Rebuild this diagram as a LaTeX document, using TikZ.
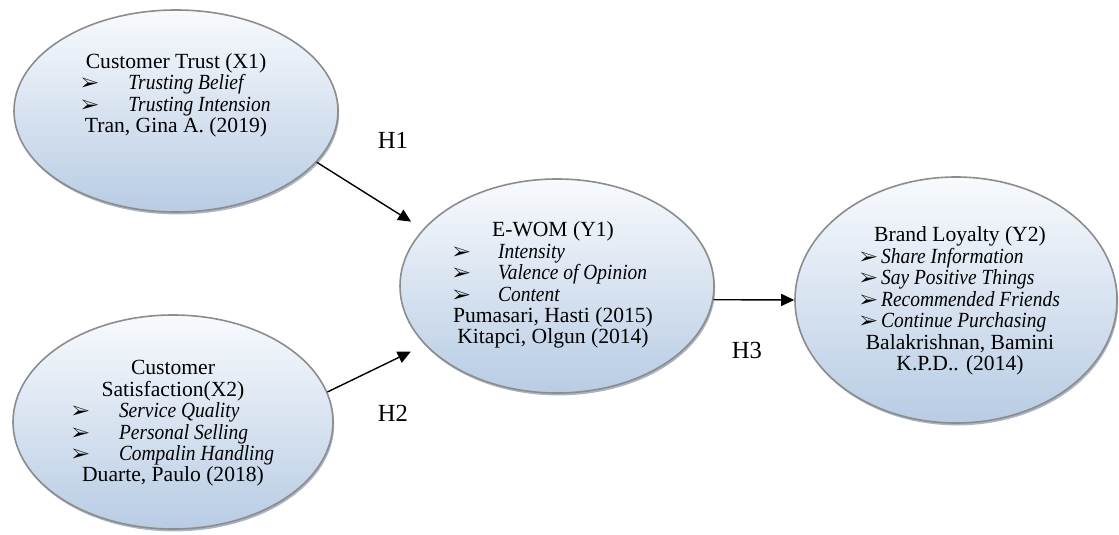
\documentclass[tikz,border=0pt]{standalone}
\usepackage{fontspec}
\setmainfont{Liberation Serif}
\newfontfamily\narrowit{Liberation Serif}[FakeStretch=0.9]
\usepackage{pifont}
\usepackage{tikz}
\usetikzlibrary{arrows.meta, positioning, shapes.geometric, shadows}

\definecolor{ovaltop}{RGB}{248,250,253}
\definecolor{ovalbottom}{RGB}{184,204,228}
\definecolor{ovalline}{RGB}{140,140,140}
\definecolor{ovalshadow}{RGB}{130,150,180}

\newcommand{\itm}[2]{\makebox[#1][l]{\fontsize{9.5}{9.5}\selectfont\ding{226}}{\narrowit\itshape #2}}
\newcommand{\ttl}[1]{\multicolumn{1}{@{}c@{}}{#1}}

\begin{document}
\begin{tikzpicture}[x=0.5pt, y=-0.5pt,
    oval/.style={draw=ovalline, line width=0.8pt, ellipse, inner sep=0pt,
        top color=ovaltop, bottom color=ovalbottom,
        drop shadow={shadow xshift=0.6pt, shadow yshift=-1.2pt, fill=ovalshadow, opacity=0.7}},
    body/.style={inner sep=0pt, font=\fontsize{10.8}{10.7}\selectfont},
    hyp/.style={inner sep=0pt, font=\fontsize{12.3}{14}\selectfont},
    arr/.style={-{Triangle[length=6.5pt, width=6pt]}, line width=0.7pt}]
    \useasboundingbox (0,0) rectangle (1119,535);

    % variables
    \node[oval, minimum width=162pt, minimum height=101pt] (X1) at (176,111) {};
    \node[oval, minimum width=160pt, minimum height=107pt] (X2) at (173,422) {};
    \node[oval, minimum width=157pt, minimum height=107pt] (Y1) at (557,286) {};
    \node[oval, minimum width=161pt, minimum height=123pt] (Y2) at (956,300) {};

    % indicators
    \node[body] (X1t) at (176,96) {\begin{tabular}{@{}l@{}}
        \ttl{Customer Trust (X1)}\\
        \itm{23.5pt}{Trusting Belief}\\
        \itm{23.5pt}{Trusting Intension}\\
        \ttl{Tran, Gina A. (2019)}
    \end{tabular}};
    \node[body] (X2t) at (173,424) {\begin{tabular}{@{}l@{}}
        \ttl{Customer}\\
        \ttl{Satisfaction(X2)}\\
        \itm{23.5pt}{Service Quality}\\
        \itm{23.5pt}{Personal Selling}\\
        \itm{23.5pt}{Compalin Handling}\\
        \ttl{Duarte, Paulo (2018)}
    \end{tabular}};
    \node[body] (Y1t) at (553,286) {\begin{tabular}{@{}l@{}}
        \ttl{E-WOM (Y1)}\\
        \itm{22.5pt}{Intensity}\\
        \itm{22.5pt}{Valence of Opinion}\\
        \itm{22.5pt}{Content}\\
        \ttl{Pumasari, Hasti (2015)}\\
        \ttl{Kitapci, Olgun (2014)}
    \end{tabular}};
    \node[body] (Y2t) at (960,302) {\begin{tabular}{@{}l@{}}
        \ttl{Brand Loyalty (Y2)}\\
        \itm{10.5pt}{Share Information}\\
        \itm{10.5pt}{Say Positive Things}\\
        \itm{10.5pt}{Recommended Friends}\\
        \itm{10.5pt}{Continue Purchasing}\\
        \ttl{Balakrishnan, Bamini}\\
        \ttl{K.P.D.. (2014)}
    \end{tabular}};

    % hypotheses
    \draw[arr, shorten >=7pt] (X1.-20) -- (Y1.157);
    \draw[arr, shorten >=7.8pt] (X2.11) -- (Y1.-156);
    \draw[arr] (Y1.-5) -- (Y2.west);

    \node[hyp] (H1) at (393,140) {H1};
    \node[hyp] (H2) at (393,413) {H2};
    \node[hyp] (H3) at (747,350) {H3};
\end{tikzpicture}
\end{document}
